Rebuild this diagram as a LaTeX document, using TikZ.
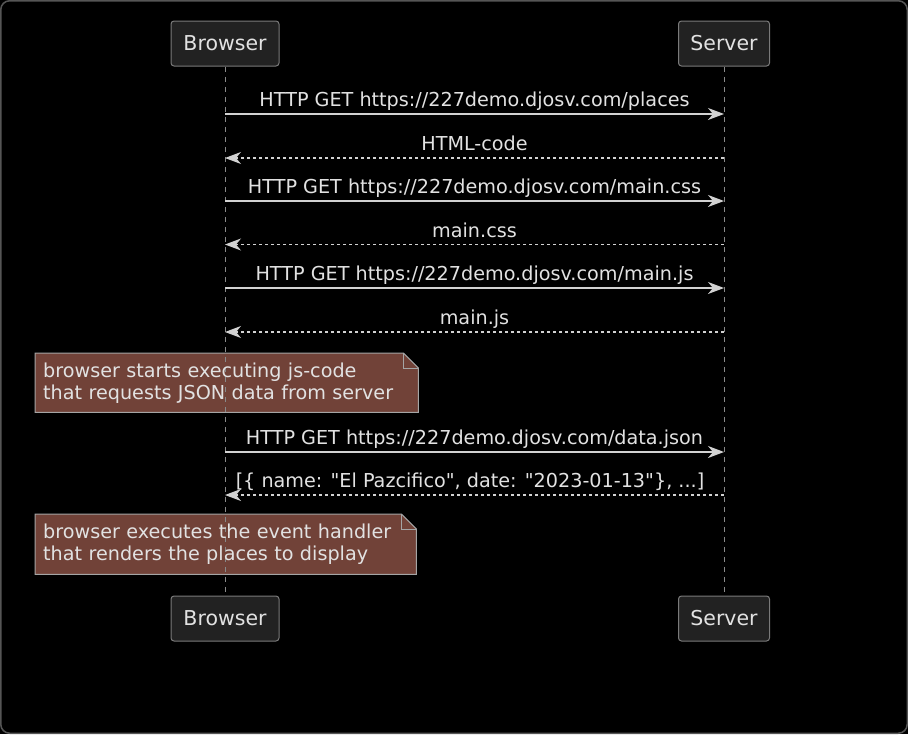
\documentclass[tikz,border=0pt]{standalone}
\usepackage{fontspec}
\setmainfont{DejaVu Sans}[Ligatures=TeXOff]
\usetikzlibrary{arrows.meta}
\usetikzlibrary{backgrounds}

\definecolor{boxfill}{HTML}{222222}
\definecolor{boxline}{HTML}{7A7A7A}
\definecolor{txtcol}{HTML}{E2E2E2}
\definecolor{msgcol}{HTML}{D2D2D2}
\definecolor{lifecol}{HTML}{8A8A8A}
\definecolor{notefill}{HTML}{714238}
\definecolor{notecol}{HTML}{A5A5A5}
\definecolor{framecol}{HTML}{555555}

\tikzset{
  participant/.style={draw=boxline, fill=boxfill, rounded corners=3pt, line width=1pt,
    minimum height=45pt, text=txtcol, font=\fontsize{20.5}{24}\selectfont},
  lifeline/.style={draw=lifecol, line width=1pt, dash pattern=on 5pt off 5pt},
  call/.style={draw=msgcol, line width=1.3pt, -{Stealth[length=16pt,width=12pt,inset=5pt]}},
  reply/.style={call, dash pattern=on 3pt off 3pt},
  msglabel/.style={text=txtcol, font=\fontsize{19.2}{22}\selectfont, anchor=base,
    yshift=7.5pt, inner sep=0pt},
  notebox/.style={anchor=north west, text=txtcol, font=\fontsize{19.2}{22}\selectfont,
    align=left, inner xsep=8pt, inner ysep=0pt},
  noteshape/.style={draw=notecol, fill=notefill, line width=1pt}
}

\begin{document}
\begin{tikzpicture}[x=1pt,y=-1pt]

\useasboundingbox (0,0) rectangle (908,734);
\begin{scope}[on background layer]
\fill[black] (0,0) rectangle (908,734);
\end{scope}
% window frame
\draw[framecol, line width=1.5pt, rounded corners=9pt] (0.75,0.75) rectangle (907.25,733.25);

% participants
\node[participant, minimum width=108pt] (browserTop) at (225,43.5) {Browser};
\node[participant, minimum width=91pt] (serverTop) at (724,43.5) {Server};
\node[participant, minimum width=108pt] (browserBot) at (225,618.5) {Browser};
\node[participant, minimum width=91pt] (serverBot) at (724,618.5) {Server};

% lifelines
\draw[lifeline] (browserTop.south) -- (browserBot.north);
\draw[lifeline] (serverTop.south) -- (serverBot.north);

% message ends
\coordinate (b1) at (225,114);   \coordinate (s1) at (724,114);
\coordinate (b2) at (225,158);   \coordinate (s2) at (724,158);
\coordinate (b3) at (225,201);   \coordinate (s3) at (724,201);
\coordinate (b4) at (225,244.5); \coordinate (s4) at (724,244.5);
\coordinate (b5) at (225,288);   \coordinate (s5) at (724,288);
\coordinate (b6) at (225,332);   \coordinate (s6) at (724,332);
\coordinate (b7) at (225,452);   \coordinate (s7) at (724,452);
\coordinate (b8) at (225,495);   \coordinate (s8) at (724,495);

% messages
\draw[call] (b1) -- (s1) node[msglabel, pos=.5] {HTTP GET https://227demo.djosv.com/places};
\draw[reply] (s2) -- (b2) node[msglabel, pos=.5] {HTML-code};
\draw[call] (b3) -- (s3) node[msglabel, pos=.5] {HTTP GET https://227demo.djosv.com/main.css};
\draw[reply] (s4) -- (b4) node[msglabel, pos=.5] {main.css};
\draw[call] (b5) -- (s5) node[msglabel, pos=.5] {HTTP GET https://227demo.djosv.com/main.js};
\draw[reply] (s6) -- (b6) node[msglabel, pos=.5] {main.js};
\draw[call] (b7) -- (s7) node[msglabel, pos=.5] {HTTP GET https://227demo.djosv.com/data.json};
\draw[reply] (s8) -- (b8) node[msglabel, pos=.509] {[\{ name: "El Pazcifico", date: "2023-01-13"\}, ...]};

% notes
\node[notebox, text width=367pt, minimum height=59pt] (note1) at (35,353)
  {browser starts executing js-code\\that requests JSON data from server};
\node[notebox, text width=365pt, minimum height=60pt] (note2) at (35,514)
  {browser executes the event handler\\that renders the places to display};

\begin{scope}[on background layer]
\draw[noteshape] (note1.north west) -- ([xshift=-15pt]note1.north east)
  -- ([yshift=-15pt]note1.north east) -- (note1.south east) -- (note1.south west) -- cycle;
\draw[noteshape, fill=none] ([xshift=-15pt]note1.north east)
  -- ([xshift=-15pt,yshift=-15pt]note1.north east) -- ([yshift=-15pt]note1.north east);
\draw[noteshape] (note2.north west) -- ([xshift=-15pt]note2.north east)
  -- ([yshift=-15pt]note2.north east) -- (note2.south east) -- (note2.south west) -- cycle;
\draw[noteshape, fill=none] ([xshift=-15pt]note2.north east)
  -- ([xshift=-15pt,yshift=-15pt]note2.north east) -- ([yshift=-15pt]note2.north east);
\end{scope}

\end{tikzpicture}
\end{document}
